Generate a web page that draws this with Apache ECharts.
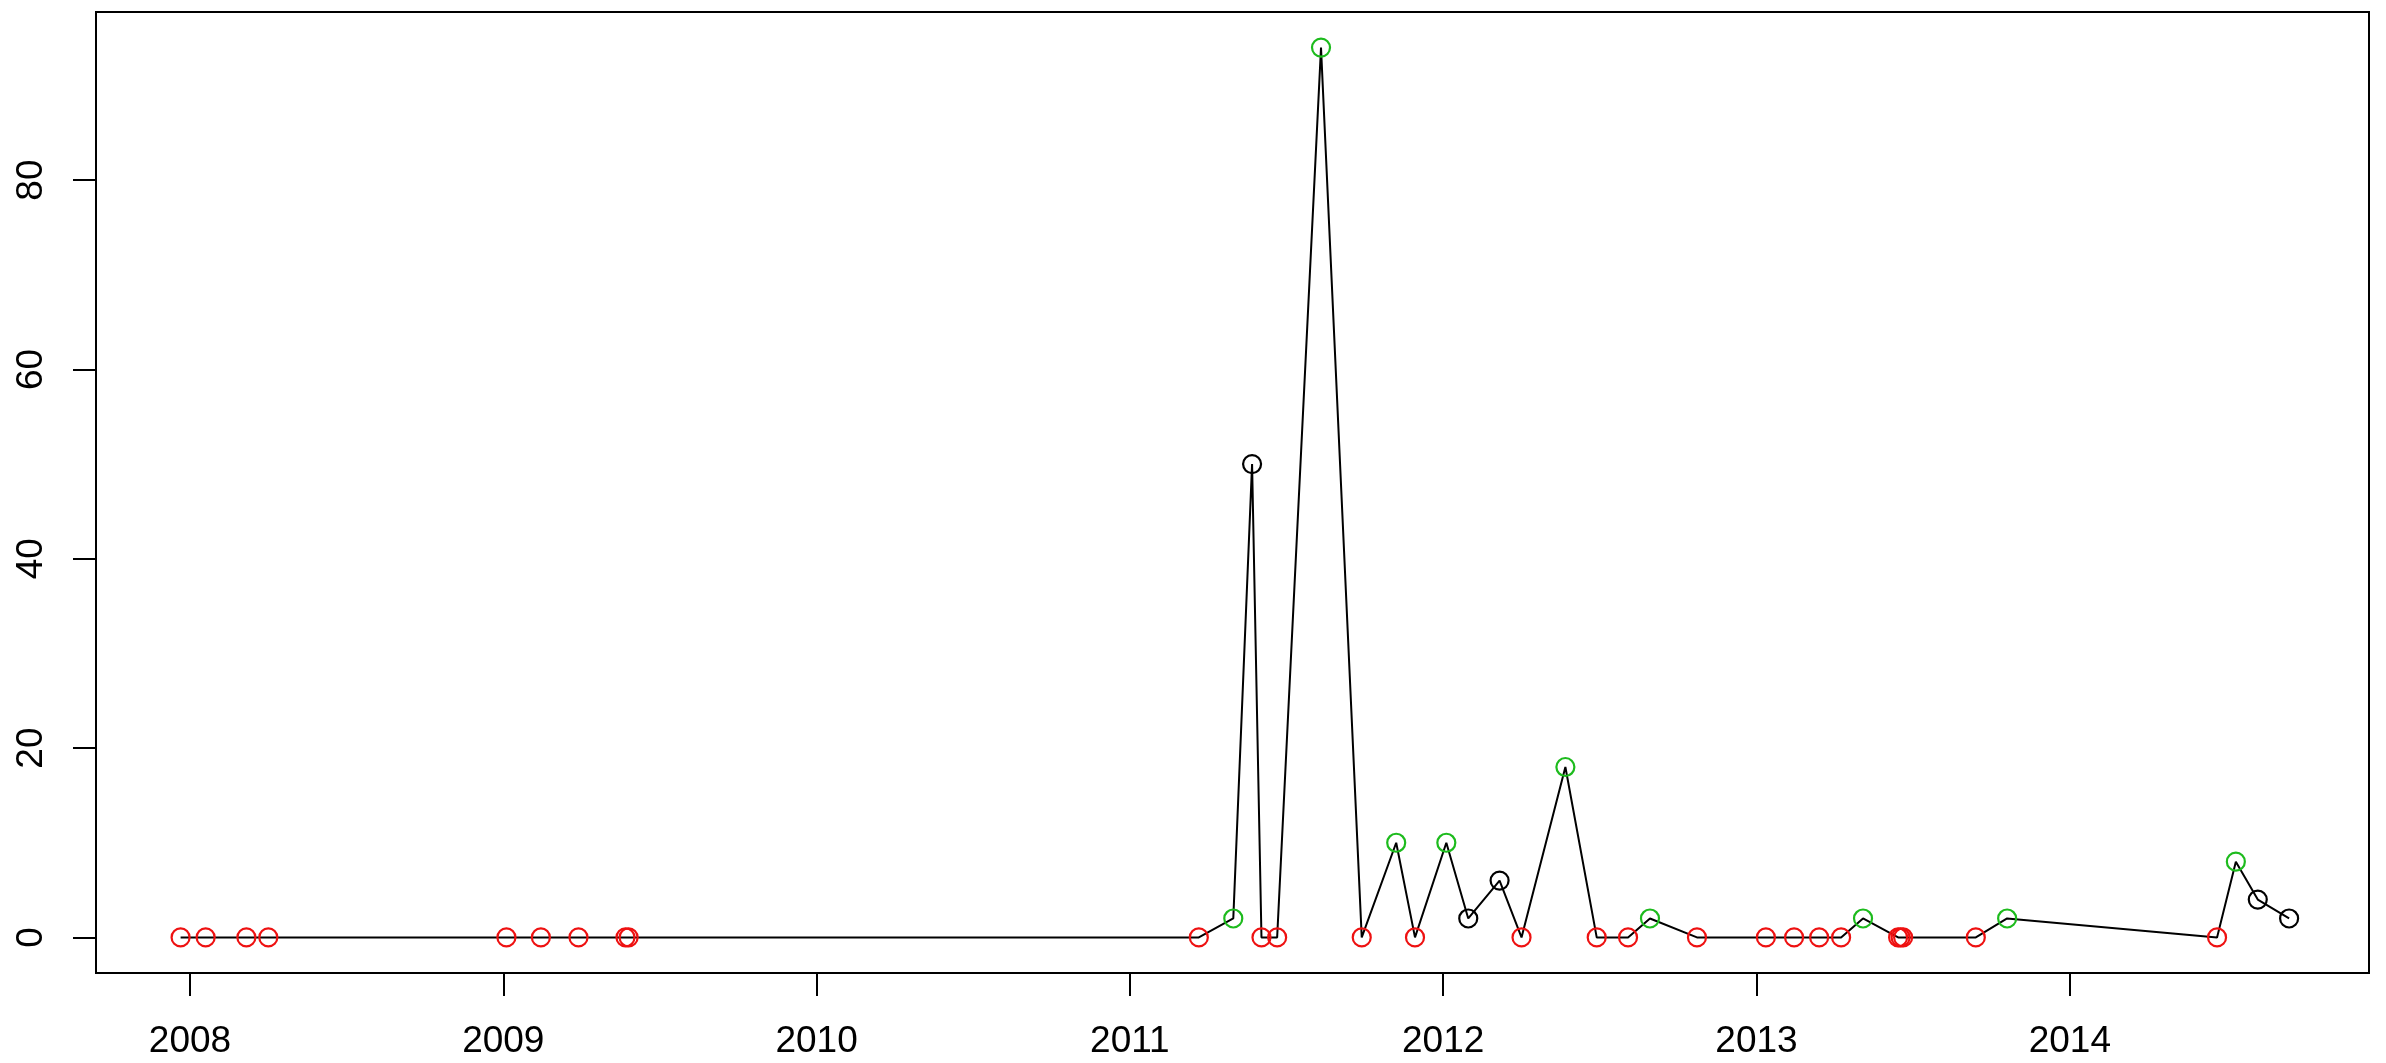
<!DOCTYPE html>
<html>
<head>
<meta charset="utf-8">
<script src="https://cdn.jsdelivr.net/npm/echarts@6/dist/echarts.min.js"></script>
<style>
html,body{margin:0;padding:0;background:#fff;}
#chart{width:2386px;height:1063px;}
</style>
</head>
<body>
<div id="chart"></div>
<script>
// Decimal-year positions of each observation
const years = [2007.97, 2008.05, 2008.18, 2008.25, 2009.01, 2009.12, 2009.24, 2009.39, 2009.40,
  2011.22, 2011.33, 2011.39, 2011.42, 2011.47, 2011.61, 2011.74, 2011.85, 2011.91, 2012.01,
  2012.08, 2012.18, 2012.25, 2012.39, 2012.49, 2012.59, 2012.66, 2012.81, 2013.03, 2013.12,
  2013.20, 2013.27, 2013.34, 2013.452, 2013.460, 2013.468, 2013.70, 2013.80, 2014.47,
  2014.53, 2014.60, 2014.70];
const values = [0, 0, 0, 0, 0, 0, 0, 0, 0,
  0, 2, 50, 0, 0, 94, 0, 10, 0, 10,
  2, 6, 0, 18, 0, 0, 2, 0, 0, 0,
  0, 0, 2, 0, 0, 0, 0, 2, 0,
  8, 4, 2];
// point group: r = red, g = green, k = black
const groups = ['r','r','r','r','r','r','r','r','r',
  'r','g','k','r','r','g','r','g','r','g',
  'k','k','r','g','r','r','g','r','r','r',
  'r','r','g','r','r','r','r','g','r',
  'g','k','k'];
const xTicks = [2008, 2009, 2010, 2011, 2012, 2013, 2014];
const yTicks = [0, 20, 40, 60, 80];

const groupColor = { r: '#EE1111', g: '#1DBB1D', k: '#000000' };

const data = years.map((x, i) => ({
  value: [x, values[i]],
  itemStyle: { borderColor: groupColor[groups[i]] }
}));

const chart = echarts.init(document.getElementById('chart'), null, { renderer: 'canvas' });
const font = '"Liberation Sans", Arial, Helvetica, sans-serif';
chart.setOption({
  animation: false,
  backgroundColor: '#ffffff',
  grid: {
    left: 96, right: 17, top: 12, bottom: 90,
    show: true, borderColor: '#000', borderWidth: 2, backgroundColor: 'transparent'
  },
  xAxis: {
    type: 'value',
    min: 2007.70, max: 2014.955,
    splitLine: { show: false },
    axisLine: { show: false, onZero: false },
    axisTick: { show: true, customValues: xTicks, length: 23, lineStyle: { color: '#000', width: 2 } },
    axisLabel: {
      customValues: xTicks, fontSize: 37, color: '#000', fontFamily: font, margin: 50,
      formatter: v => String(Math.round(v))
    }
  },
  yAxis: {
    type: 'value',
    min: -3.76, max: 97.76,
    splitLine: { show: false },
    axisLine: { show: false, onZero: false },
    axisTick: { show: true, customValues: yTicks, length: 23, lineStyle: { color: '#000', width: 2 } },
    axisLabel: {
      customValues: yTicks, fontSize: 37, color: '#000', fontFamily: font, margin: 46, rotate: 90,
      formatter: v => String(Math.round(v))
    }
  },
  series: [{
    type: 'line',
    data: data,
    showAllSymbol: true,
    symbol: 'circle',
    symbolSize: 18,
    lineStyle: { color: '#000', width: 2 },
    itemStyle: { color: 'rgba(0,0,0,0)', borderWidth: 2.2 },
    emphasis: { disabled: true }
  }]
});
</script>
</body>
</html>
